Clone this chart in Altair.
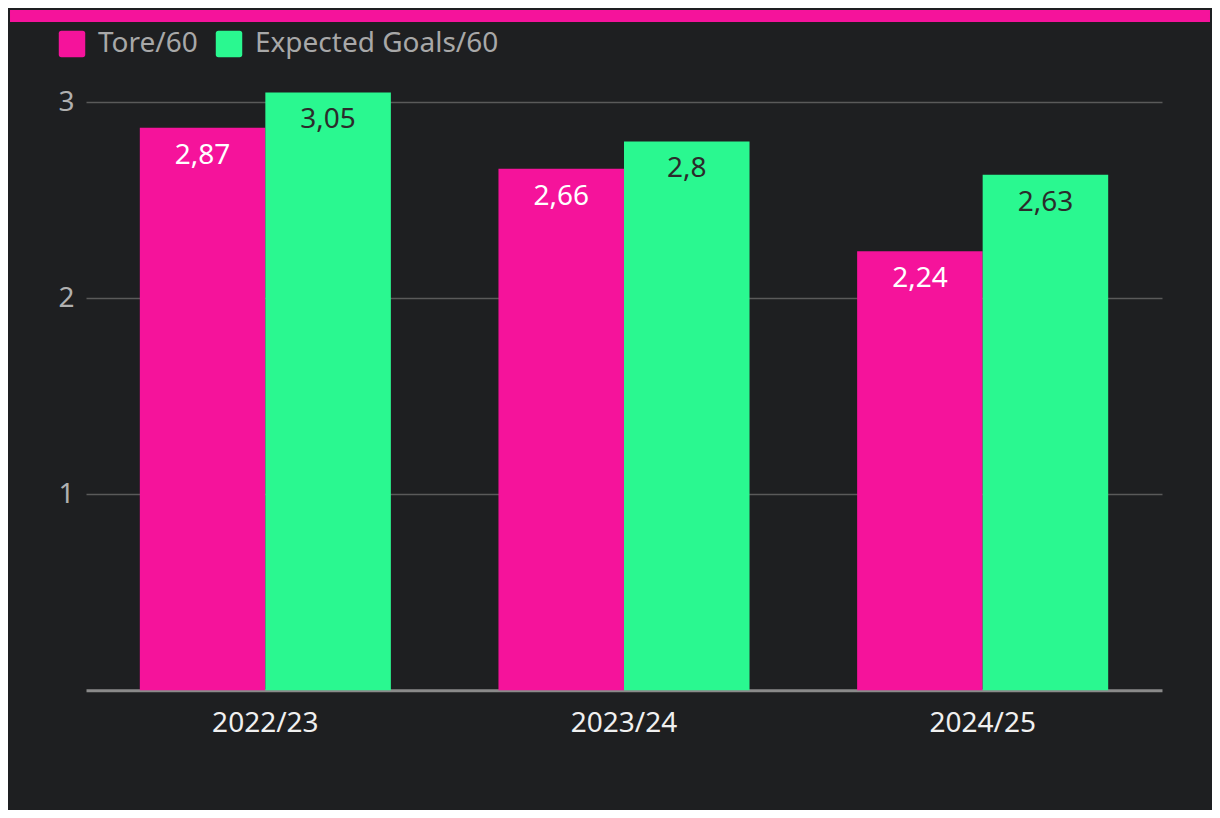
import altair as alt
import pandas as pd

seasons = ["2022/23", "2023/24", "2024/25"]
tore = [2.87, 2.66, 2.24]
xg = [3.05, 2.80, 2.63]
series = ["Tore/60", "Expected Goals/60"]
colors = ["#f5139b", "#2af890"]

rows = []
for s, t, g in zip(seasons, tore, xg):
    rows.append({"season": s, "series": series[0], "value": t, "label": f"{t:g}".replace(".", ",")})
    rows.append({"season": s, "series": series[1], "value": g, "label": f"{g:g}".replace(".", ",")})
df = pd.DataFrame(rows)

FONT = "Noto Sans"
BG = "#1e1f21"
FS = 28

rounded = "M-0.8,-1H0.8Q1,-1 1,-0.8V0.8Q1,1 0.8,1H-0.8Q-1,1 -1,0.8V-0.8Q-1,-1 -0.8,-1Z"

x = alt.X("season:N", sort=seasons, title=None,
          scale=alt.Scale(paddingInner=0.3, paddingOuter=0.15),
          axis=alt.Axis(labelAngle=0, labelFontSize=FS, labelColor="#f0f0f0", labelFont=FONT,
                        ticks=False, labelPadding=19, domainColor="#8a8a8a", domainWidth=3,
                        grid=False))
y = alt.Y("value:Q", title=None, scale=alt.Scale(domain=[0, 3.2], nice=False),
          axis=alt.Axis(values=[1, 2, 3], labelFontSize=FS, labelColor="#b0b0b0", labelFont=FONT,
                        ticks=False, domain=False, labelPadding=12, gridColor="#5a5a5a",
                        gridWidth=1.5))
xoff = alt.XOffset("series:N", sort=series, scale=alt.Scale(domain=series))

base = alt.Chart(df)

bars = base.mark_bar().encode(
    x=x, y=y, xOffset=xoff,
    color=alt.Color("series:N", scale=alt.Scale(domain=series, range=colors),
                    legend=alt.Legend(title=None, orient="none", direction="horizontal",
                                      legendX=-28, legendY=-33, padding=0,
                                      symbolType=rounded, symbolSize=700, symbolStrokeWidth=0,
                                      symbolOpacity=1, labelFontSize=FS, labelColor="#a8a8a8",
                                      labelFont=FONT, labelOffset=12, columnPadding=17,
                                      labelLimit=0)),
)

text_pink = base.transform_filter(alt.datum.series == series[0]).mark_text(
    baseline="middle", dy=28, fontSize=FS, font=FONT, color="#ffffff"
).encode(x=x, y=y, xOffset=xoff, text="label:N")

text_green = base.transform_filter(alt.datum.series == series[1]).mark_text(
    baseline="middle", dy=28, fontSize=FS, font=FONT, color="#2b2b2b"
).encode(x=x, y=y, xOffset=xoff, text="label:N")

top_bar = base.mark_rule(color="#f5139b", strokeWidth=12).encode(
    x=alt.value(-76), x2=alt.value(1124), y=alt.value(-47)
)

chart = alt.layer(bars, text_pink, text_green, top_bar).properties(
    width=1076, height=627.2,
    autosize=alt.AutoSizeParams(type="none"),
    padding={"left": 78, "top": 55, "right": 50, "bottom": 120},
    background=BG,
).configure_view(stroke=None)

chart.save("out.html", embed_options={"renderer": "svg", "actions": False})
